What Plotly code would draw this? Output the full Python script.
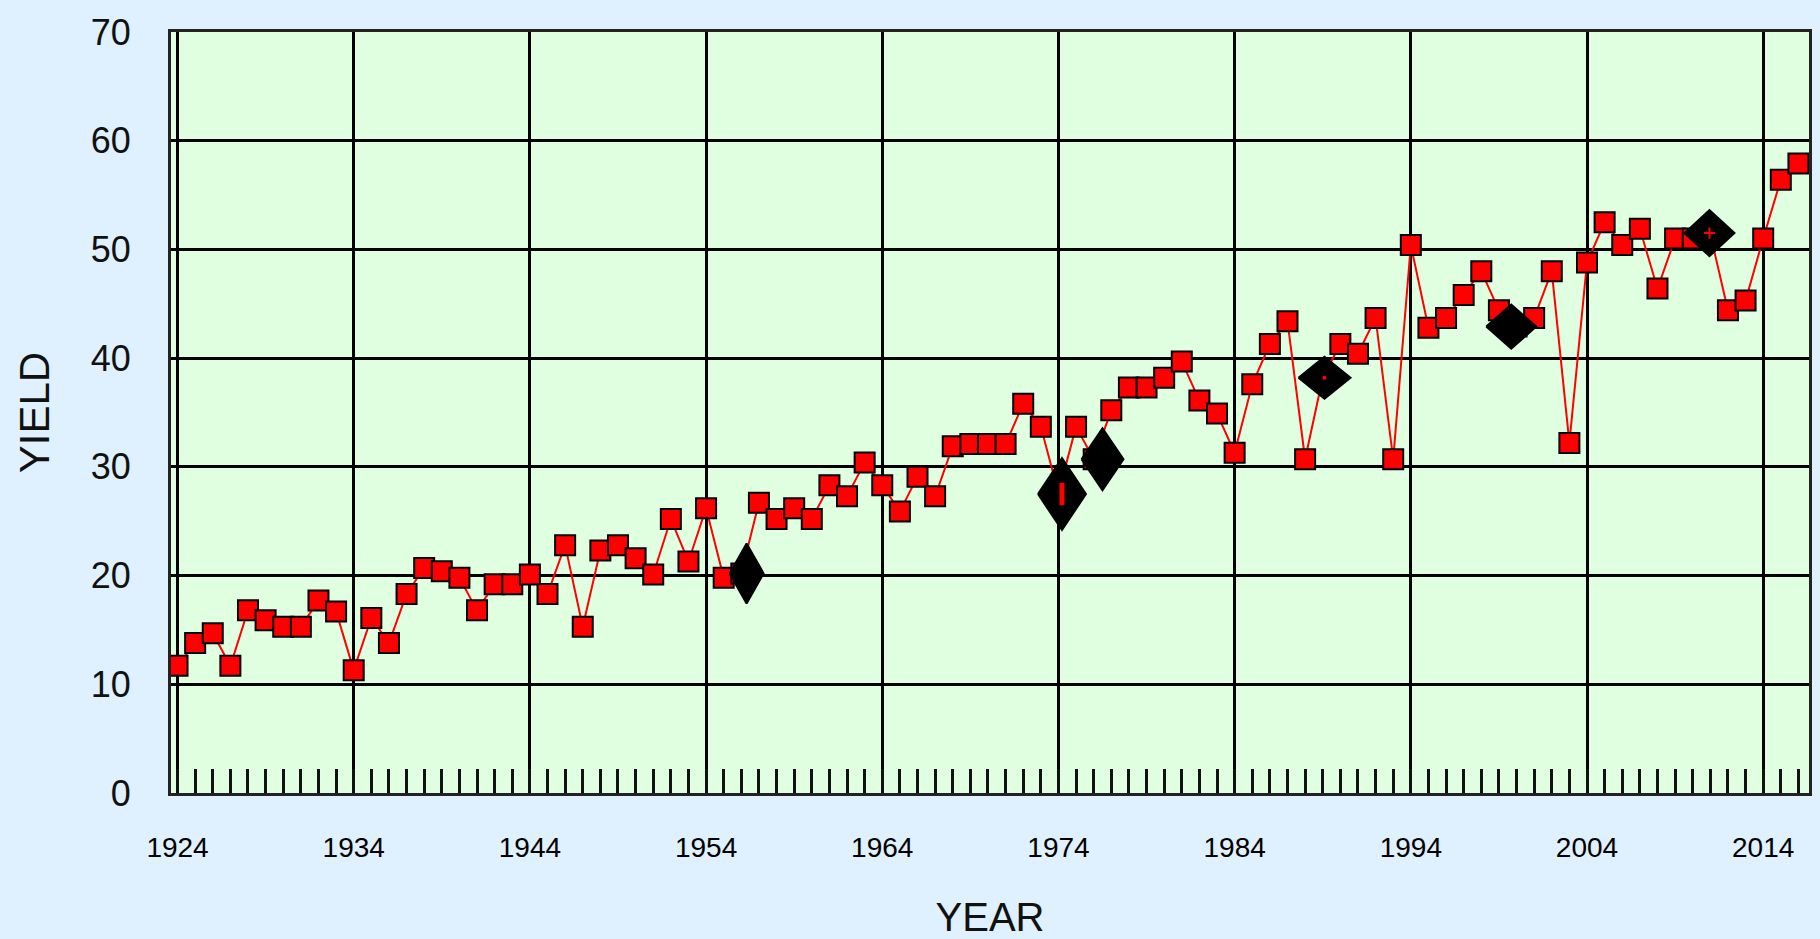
import plotly.graph_objects as go

# ---- data ----
years = list(range(1924, 2017))
yield_values = [
    11.7, 13.8, 14.7, 11.7, 16.8, 15.9, 15.3, 15.3, 17.7, 16.7,   # 1924-1933
    11.3, 16.1, 13.8, 18.3, 20.7, 20.4, 19.8, 16.8, 19.2, 19.2,   # 1934-1943
    20.1, 18.3, 22.8, 15.3, 22.3, 22.8, 21.6, 20.1, 25.2, 21.3,   # 1944-1953
    26.2, 19.8, 20.2, 26.7, 25.2, 26.2, 25.2, 28.3, 27.3, 30.4,   # 1954-1963
    28.3, 25.9, 29.1, 27.3, 31.9, 32.1, 32.1, 32.1, 35.8, 33.7,   # 1964-1973
    27.6, 33.7, 30.7, 35.2, 37.3, 37.3, 38.2, 39.7, 36.1, 34.9,   # 1974-1983
    31.3, 37.6, 41.3, 43.4, 30.7, 38.2, 41.3, 40.4, 43.7, 30.7,   # 1984-1993
    50.4, 42.8, 43.7, 45.8, 48.0, 44.4, 42.9, 43.7, 48.0, 32.2,   # 1994-2003
    48.8, 52.5, 50.4, 51.9, 46.4, 51.0, 51.0, 51.4, 44.4, 45.3,   # 2004-2013
    51.0, 56.4, 57.9,                                             # 2014-2016
]

# highlighted (black diamond) points
event_x = [1956.3, 1974.2, 1976.5, 1989.1, 1999.7, 2010.95]
event_y = [20.2, 27.5, 30.7, 38.2, 42.9, 51.5]

x_tick_vals = list(range(1924, 2015, 10))
x_tick_text = [str(v) for v in x_tick_vals]
y_tick_vals = list(range(0, 71, 10))

# ---- styles ----
PAGE_BG = "#DFF0FF"
PLOT_BG = "#E0FFE0"
SANS = "Liberation Sans, Arial, sans-serif"
X_RANGE = [1923.63, 2016.6]
Y_RANGE = [0, 70]
MARGIN = dict(l=171, r=11, t=32, b=146)
FIG_W, FIG_H = 1820, 939
# diamond half-width / half-height in pixels for each highlighted point
diamond_half_w = [17, 24, 21, 26, 25, 25]
diamond_half_h = [30, 36, 31, 21, 22, 23]

# pixel -> data unit factors of the axes
px_per_year = (FIG_W - MARGIN["l"] - MARGIN["r"]) / (X_RANGE[1] - X_RANGE[0])
px_per_unit = (FIG_H - MARGIN["t"] - MARGIN["b"]) / (Y_RANGE[1] - Y_RANGE[0])

dia_x, dia_y = [], []
for ex, ey, hw, hh in zip(event_x, event_y, diamond_half_w, diamond_half_h):
    dx = hw / px_per_year
    dy = hh / px_per_unit
    dia_x += [ex - dx, ex, ex + dx, ex, ex - dx, None]
    dia_y += [ey, ey + dy, ey, ey - dy, ey, None]

fig = go.Figure()

fig.add_trace(go.Scatter(
    x=years, y=yield_values, mode="lines+markers",
    line=dict(color="#FF0000", width=2),
    marker=dict(symbol="square", size=20, color="#FF0000", opacity=1,
                line=dict(color="#000000", width=2)),
    showlegend=False, hoverinfo="x+y",
))

fig.add_trace(go.Scatter(
    x=dia_x, y=dia_y, mode="lines", fill="toself",
    fillcolor="#000000", line=dict(color="#000000", width=2),
    showlegend=False, hoverinfo="skip",
))

# small red marks visible in the centre of some diamonds
mark_idx = [1, 3, 5]
fig.add_trace(go.Scatter(
    x=[event_x[i] for i in mark_idx], y=[event_y[i] for i in mark_idx],
    mode="markers",
    marker=dict(symbol=["line-ns", "circle", "cross-thin"], size=[16, 4, 8],
                color="#FF0000", opacity=1,
                line=dict(color="#FF0000", width=[5, 0, 2])),
    showlegend=False, hoverinfo="skip",
))

fig.update_layout(
    width=FIG_W, height=FIG_H,
    paper_bgcolor=PAGE_BG, plot_bgcolor=PLOT_BG,
    margin=dict(**MARGIN, autoexpand=False),
    showlegend=False,
)

fig.update_xaxes(
    range=X_RANGE,
    tickmode="array", tickvals=x_tick_vals, ticktext=x_tick_text,
    ticks="", ticklabelstandoff=27,
    tickfont=dict(family=SANS, size=28, color="#000000"),
    showgrid=True, gridcolor="#000000", gridwidth=2.5,
    zeroline=False,
    showline=True, linecolor="#222222", linewidth=3, mirror=True,
    minor=dict(dtick=1, tick0=1924, ticks="inside", ticklen=24,
               tickwidth=2.5, tickcolor="#111111", showgrid=False),
    title=dict(text="YEAR", font=dict(family=SANS, size=40, color="#111111"),
               standoff=50),
)

fig.update_yaxes(
    range=Y_RANGE,
    tickmode="array", tickvals=y_tick_vals,
    ticks="", ticklabelstandoff=30,
    tickfont=dict(family=SANS, size=36, color="#111111"),
    showgrid=True, gridcolor="#000000", gridwidth=2.5,
    zeroline=False,
    showline=True, linecolor="#222222", linewidth=3, mirror=True,
    title=dict(text="YIELD", font=dict(family=SANS, size=42, color="#111111"),
               standoff=29),
)

fig.write_html(
    "out.html",
    config={"displayModeBar": False},
    post_script="document.body.style.margin='0';"
                "document.body.style.background='" + PAGE_BG + "';",
)
